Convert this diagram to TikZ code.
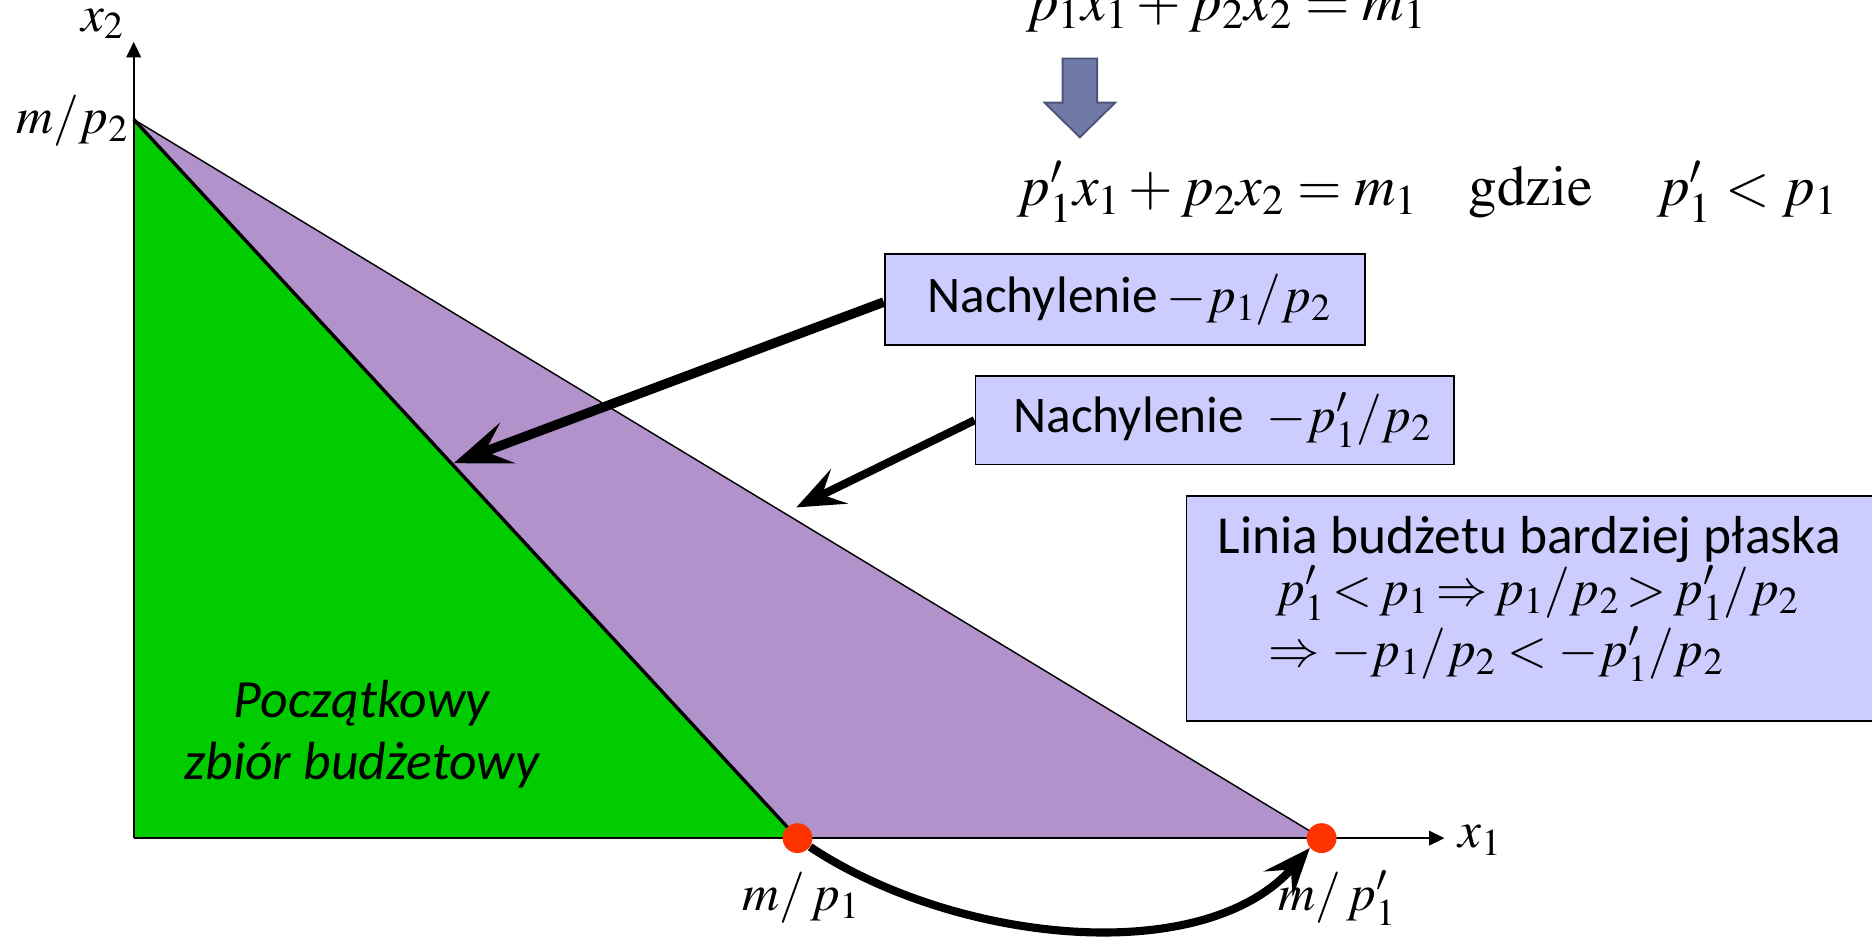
\documentclass[tikz,border=0pt]{standalone}
\usepackage{mathptmx}
\usepackage[no-math]{fontspec}
\setmainfont{Carlito}
\usetikzlibrary{arrows.meta}
\definecolor{setgreen}{RGB}{0,204,0}
\definecolor{setpurple}{RGB}{177,146,202}
\definecolor{boxblue}{RGB}{204,204,255}
\definecolor{dotred}{RGB}{255,51,0}
\definecolor{blkfill}{RGB}{111,123,166}
\definecolor{blkdraw}{RGB}{76,84,120}
\begin{document}
\begin{tikzpicture}[x=0.5pt,y=-0.5pt,
  txt/.style={font=\fontsize{21.5}{25}\selectfont, inner sep=0pt},
  eqtxt/.style={font=\fontsize{24}{28}\selectfont, inner sep=0pt},
  bluebox/.style={draw=black, line width=0.75pt, fill=boxblue, inner sep=0pt},
  bigarrow/.style={line width=4pt, -{Stealth[length=24pt,width=18pt,inset=10pt]}},
  midarrow/.style={line width=3.4pt, -{Stealth[length=20pt,width=16pt,inset=8pt]}},
  axisline/.style={line width=1pt, -{Triangle[length=6.5pt,width=6pt]}},
  reddot/.style={circle, fill=dotred, minimum size=12.5pt, inner sep=0pt}]
\useasboundingbox (0,0) rectangle (1568,784);
% points
\coordinate (O) at (112,702);
\coordinate (A) at (112,100);
\coordinate (Ytip) at (112,35);
\coordinate (Xtip) at (1210,702);
% regions
\fill[setpurple] (A) -- (668,702) -- (1107,702) -- cycle;
\fill[setgreen] (O) -- (A) -- (668,702) -- cycle;
\draw[line width=0.6pt] (A) -- (1107,702);
\draw[line width=1.4pt] (A) -- (668,702);
% axes
\draw[axisline] (O) -- (Ytip);
\draw[axisline] (O) -- (Xtip);
% intercept dots
\node[reddot] (B) at (668,702) {};
\node[reddot] (C) at (1107,702) {};
% axis labels
\node[txt] (x2l) at (86,20) {$x_2$};
\node[txt] (x1l) at (1240,704) {$x_1$};
\node[txt, anchor=east] (mp2) at (108,101) {$m/p_2$};
\node[txt] (mp1) at (671,752) {$m/\,p_1$};
\node[txt] (mpp1) at (1120,752) {$m/\,p'_1$};
% initial set label
\node[inner sep=0pt, font=\fontsize{22.5}{26}\selectfont\itshape, align=center] (init) at (303,615) {Początkowy\\zbiór budżetowy};
% curved arrow between intercepts
\draw[midarrow] (B.-35) .. controls (800,790) and (1008,812) .. (C.-140);
% equations
\node[eqtxt, anchor=base] (eq0) at (1027,17) {$p_1x_1+p_2x_2=m_1$};
\draw[fill=blkfill, draw=blkdraw, line width=0.8pt, line join=miter] (890,49) -- (919,49) -- (919,86) -- (934,86) -- (904.5,115) -- (875,86) -- (890,86) -- cycle;
\node[eqtxt, anchor=base west] (eq1) at (852,172) {$p'_1x_1+p_2x_2=m_1$\hspace{21pt}$\mathrm{gdzie}$\hspace{27pt}$p'_1<p_1$};
% boxes
\node[bluebox, minimum width=201pt, minimum height=38pt] (box1) at (942,251) {};
\node[txt] (box1t) at (946,251) {Nachylenie\,$-p_1/p_2$};
\node[bluebox, minimum width=200.5pt, minimum height=37pt] (box2) at (1017.5,352) {};
\node[txt] (box2t) at (1024,352) {Nachylenie\;\,$-p'_1/p_2$};
\node[bluebox, minimum width=294pt, minimum height=94pt, anchor=north west] (box3) at (993,415) {};
\node[inner sep=0pt, font=\fontsize{22.4}{26}\selectfont] (l1) at (1281,452) {Linia budżetu bardziej płaska};
\node[txt, anchor=west] (l2) at (1068,497) {\thickmuskip=2.5mu$p'_1<p_1\Rightarrow p_1/p_2>p'_1/p_2$};
\node[txt, anchor=west] (l3) at (1062,548) {$\Rightarrow -p_1/p_2<-p'_1/p_2$};
% slope arrows
\coordinate (t1) at (380,388);
\coordinate (t2) at (667,425);
\draw[bigarrow] (box1.west) ++(0,2) -- (t1);
\draw[midarrow] (box2.west) -- (t2);
\end{tikzpicture}
\end{document}
